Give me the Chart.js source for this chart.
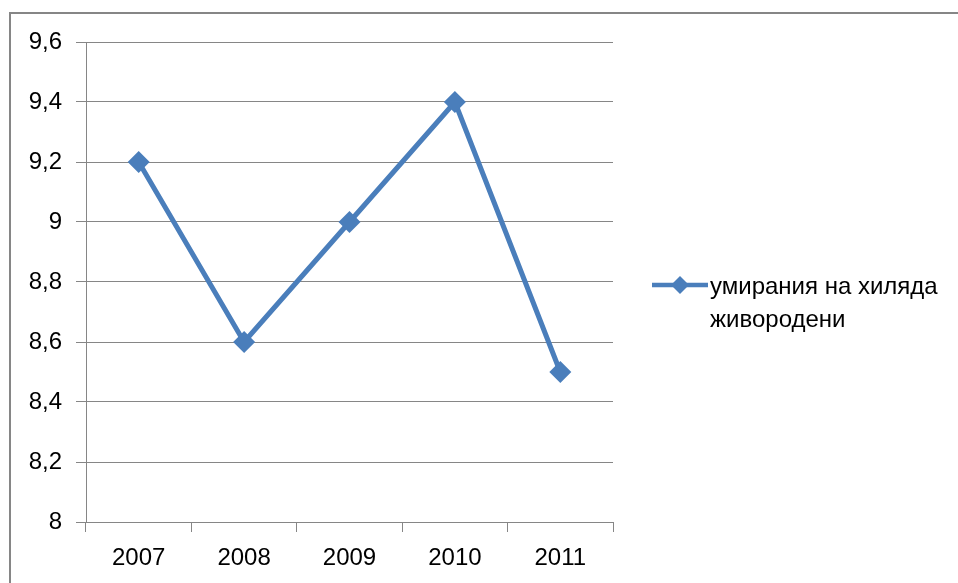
<!DOCTYPE html>
<html>
<head>
<meta charset="utf-8">
<script src="https://cdn.jsdelivr.net/npm/chart.js@4/dist/chart.umd.min.js"></script>
<style>
  html, body { margin: 0; padding: 0; background: #fff; overflow: hidden; }
  #wrap { position: relative; width: 958px; height: 583px; }
  #frame { position: absolute; left: 9px; top: 12px; width: 1000px; height: 1000px;
           border: 2px solid #868686; box-sizing: border-box; pointer-events: none; }
  canvas { position: absolute; left: 0; top: 0; }
</style>
</head>
<body>
<div id="wrap">
  <canvas id="chart" width="958" height="583"></canvas>
  <div id="frame"></div>
</div>
<script>
// chart data
const years = ['2007', '2008', '2009', '2010', '2011'];
const deathsPerThousand = [9.2, 8.6, 9.0, 9.4, 8.5];
const seriesLabel = ['умирания на хиляда', 'живородени'];

const lineColor = '#4a7ebb';
const gridColor = '#868686';
const fontFamily = '"Liberation Sans", Arial, sans-serif';

// legend drawn by hand so the label can wrap onto two lines
const sideLegend = {
  id: 'sideLegend',
  afterDraw(chart) {
    const ctx = chart.ctx;
    const x0 = 652, y0 = 285;
    ctx.save();
    ctx.strokeStyle = lineColor;
    ctx.lineWidth = 4.5;
    ctx.beginPath();
    ctx.moveTo(x0, y0);
    ctx.lineTo(x0 + 56, y0);
    ctx.stroke();
    ctx.fillStyle = lineColor;
    ctx.beginPath();
    ctx.moveTo(x0 + 28, y0 - 9);
    ctx.lineTo(x0 + 37, y0);
    ctx.lineTo(x0 + 28, y0 + 9);
    ctx.lineTo(x0 + 19, y0);
    ctx.closePath();
    ctx.fill();
    ctx.fillStyle = '#000';
    ctx.font = '24px ' + fontFamily;
    ctx.textBaseline = 'middle';
    seriesLabel.forEach((t, i) => ctx.fillText(t, x0 + 58, y0 + 2 + i * 33));
    ctx.restore();
  }
};

new Chart(document.getElementById('chart').getContext('2d'), {
  type: 'line',
  data: {
    labels: years,
    datasets: [{
      label: seriesLabel.join(' '),
      data: deathsPerThousand,
      borderColor: lineColor,
      backgroundColor: lineColor,
      borderWidth: 5,
      pointStyle: 'rectRot',
      pointRadius: 11,
      pointBorderWidth: 0,
      tension: 0
    }]
  },
  options: {
    responsive: false,
    animation: false,
    layout: { padding: { left: 0, top: 42, right: 345, bottom: 0 } },
    plugins: { legend: { display: false }, tooltip: { enabled: false } },
    scales: {
      x: {
        offset: true,
        afterFit: s => { s.height = 61; },
        grid: { offset: true, drawOnChartArea: false, drawTicks: true, tickLength: 10, color: gridColor },
        border: { color: gridColor, width: 1 },
        ticks: { color: '#000', font: { family: fontFamily, size: 24 }, padding: 12 }
      },
      y: {
        min: 8, max: 9.6,
        afterFit: s => { s.width = 86; },
        grid: { color: gridColor, tickLength: 10 },
        border: { color: gridColor, width: 1 },
        ticks: {
          stepSize: 0.2,
          color: '#000',
          font: { family: fontFamily, size: 24 },
          padding: 14,
          callback: v => String(Math.round(v * 10) / 10).replace('.', ',')
        }
      }
    }
  },
  plugins: [sideLegend]
});
</script>
</body>
</html>
